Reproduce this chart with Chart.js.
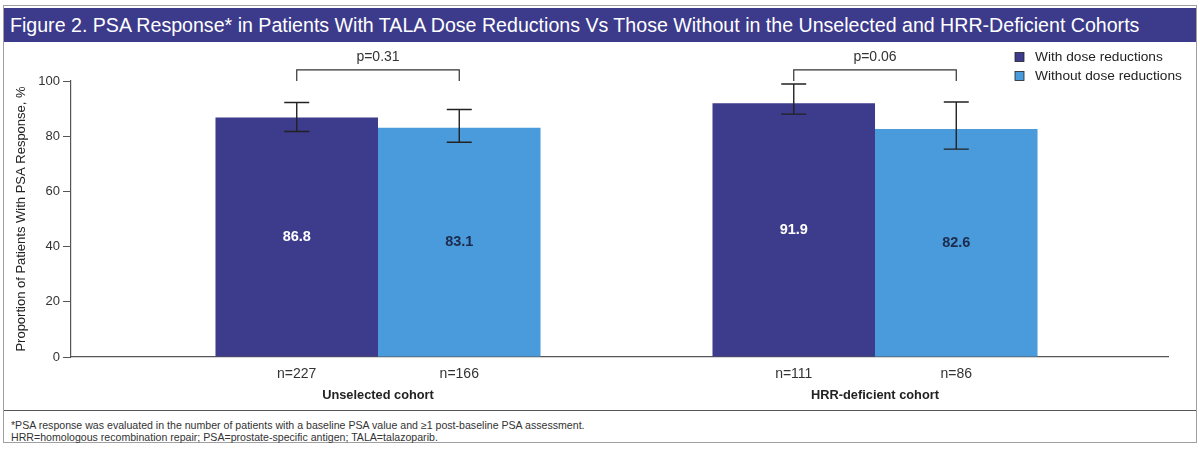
<!DOCTYPE html>
<html>
<head>
<meta charset="utf-8">
<script src="https://cdn.jsdelivr.net/npm/chart.js@4"></script>
<style>
  body { margin: 0; background: #fff; font-family: "Liberation Sans", Arial, sans-serif; }
  #frame { position: absolute; left: 3px; top: 5px; width: 1192px; height: 436px; border: 1px solid #a0a0a0; }
  #title { position: absolute; left: 0; top: 2px; width: 1192px; height: 34px; background: #3c3a8b;
           color: #fff; font-size: 19.6px; line-height: 34px; padding-left: 6px; box-sizing: border-box; white-space: nowrap; }
  #chartBox { position: absolute; left: 0; top: 37px; width: 1190px; height: 367px; }
  #foot { position: absolute; left: 0; top: 404px; width: 1192px; height: 32px; border-top: 1px solid #555;
          font-size: 10.6px; color: #333; padding: 8px 0 0 7px; box-sizing: border-box; line-height: 12px; }
</style>
</head>
<body>
<div id="frame">
  <div id="title">Figure 2. PSA Response* in Patients With TALA Dose Reductions Vs Those Without in the Unselected and HRR-Deficient Cohorts</div>
  <div id="chartBox"><canvas id="psaChart"></canvas></div>
  <div id="foot">*PSA response was evaluated in the number of patients with a baseline PSA value and ≥1 post-baseline PSA assessment.<br>HRR=homologous recombination repair; PSA=prostate-specific antigen; TALA=talazoparib.</div>
</div>
<script>
// chart data
const cohorts = ["Unselected cohort", "HRR-deficient cohort"];
const seriesNames = ["With dose reductions", "Without dose reductions"];
const withReductions = [86.8, 91.9];
const withoutReductions = [83.1, 82.6];
const withLow = [81.7, 88.0];
const withHigh = [92.2, 98.9];
const withoutLow = [77.8, 75.3];
const withoutHigh = [89.7, 92.4];
const withN = ["n=227", "n=111"];
const withoutN = ["n=166", "n=86"];
const pValues = ["p=0.31", "p=0.06"];
const yTicks = [0, 20, 40, 60, 80, 100];

const darkBlue = "#3d3b8c";
const lightBlue = "#4a9bdc";
const fontFam = "'Liberation Sans', Arial, sans-serif";

const errors = [[withLow, withHigh], [withoutLow, withoutHigh]];
const nLabels = [withN, withoutN];

// error bars, brackets, value labels, n labels, legend
const extrasPlugin = {
  id: "extras",
  afterDatasetsDraw(chart) {
    const ctx = chart.ctx;
    const y = chart.scales.y;
    const x = chart.scales.x;
    const area = chart.chartArea;
    ctx.save();
    ctx.textAlign = "center";
    ctx.textBaseline = "middle";

    // values inside bars
    chart.data.datasets.forEach((ds, d) => {
      const meta = chart.getDatasetMeta(d);
      meta.data.forEach((bar, i) => {
        ctx.font = "bold 14.5px " + fontFam;
        ctx.fillStyle = d === 0 ? "#ffffff" : "#1d2b4c";
        ctx.fillText(ds.data[i].y.toFixed(1), bar.x, y.getPixelForValue(ds.data[i].y / 2));
      });
    });

    // error bars
    ctx.strokeStyle = "#222";
    ctx.lineWidth = 1.4;
    chart.data.datasets.forEach((ds, d) => {
      const meta = chart.getDatasetMeta(d);
      meta.data.forEach((bar, i) => {
        const lo = y.getPixelForValue(errors[d][0][i]);
        const hi = y.getPixelForValue(errors[d][1][i]);
        ctx.beginPath();
        ctx.moveTo(bar.x, lo); ctx.lineTo(bar.x, hi);
        ctx.moveTo(bar.x - 12.5, lo); ctx.lineTo(bar.x + 12.5, lo);
        ctx.moveTo(bar.x - 12.5, hi); ctx.lineTo(bar.x + 12.5, hi);
        ctx.stroke();
      });
    });

    // significance brackets
    const m0 = chart.getDatasetMeta(0).data;
    const m1 = chart.getDatasetMeta(1).data;
    ctx.lineWidth = 1.2;
    ctx.strokeStyle = "#333";
    pValues.forEach((p, i) => {
      const top = y.getPixelForValue(104);
      const end = y.getPixelForValue(100);
      ctx.beginPath();
      ctx.moveTo(m0[i].x, end); ctx.lineTo(m0[i].x, top);
      ctx.lineTo(m1[i].x, top); ctx.lineTo(m1[i].x, end);
      ctx.stroke();
      ctx.font = "14px " + fontFam;
      ctx.fillStyle = "#333";
      ctx.fillText(p, (m0[i].x + m1[i].x) / 2, y.getPixelForValue(108.8));
    });

    // n labels and cohort names under the axis
    [m0, m1].forEach((bars, d) => {
      bars.forEach((bar, i) => {
        ctx.font = "14px " + fontFam;
        ctx.fillStyle = "#333";
        ctx.fillText(nLabels[d][i], bar.x, area.bottom + 17);
      });
    });
    cohorts.forEach((c, i) => {
      ctx.font = "bold 12.8px " + fontFam;
      ctx.fillStyle = "#222";
      ctx.fillText(c, x.getPixelForValue(i + 1), area.bottom + 38);
    });

    // legend
    chart.data.datasets.forEach((ds, d) => {
      const lx = chart.width - 179;
      const ly = 14 + d * 19;
      ctx.fillStyle = ds.backgroundColor;
      ctx.fillRect(lx, ly - 4.5, 9, 9);
      ctx.strokeStyle = "#222";
      ctx.lineWidth = 0.8;
      ctx.strokeRect(lx, ly - 4.5, 9, 9);
      ctx.font = "13.7px " + fontFam;
      ctx.fillStyle = "#222";
      ctx.textAlign = "left";
      ctx.fillText(ds.label, lx + 20, ly);
    });

    ctx.restore();
  }
};

new Chart(document.getElementById("psaChart"), {
  type: "bar",
  data: {
    datasets: [
      {
        label: seriesNames[0],
        data: withReductions.map((v, i) => ({ x: i + 1, y: v })),
        backgroundColor: darkBlue
      },
      {
        label: seriesNames[1],
        data: withoutReductions.map((v, i) => ({ x: i + 1, y: v })),
        backgroundColor: lightBlue
      }
    ]
  },
  options: {
    responsive: true,
    maintainAspectRatio: false,
    animation: false,
    categoryPercentage: 0.654,
    barPercentage: 1.0,
    layout: { padding: { top: 38, right: 26, left: 0, bottom: 0 } },
    plugins: {
      legend: { display: false },
      tooltip: { enabled: false }
    },
    scales: {
      x: {
        type: "linear",
        offset: false,
        min: 0.3823,
        max: 2.5895,
        afterBuildTicks(scale) {
          scale.ticks = cohorts.map((c, i) => ({ value: i + 1 }));
        },
        afterFit(scale) { scale.height = 53; },
        ticks: { display: false },
        grid: { offset: false, drawOnChartArea: false, drawTicks: false },
        border: { color: "#555", width: 1.2 }
      },
      y: {
        min: 0,
        max: 100,
        afterBuildTicks(scale) {
          scale.ticks = yTicks.map(v => ({ value: v }));
        },
        afterFit(scale) { scale.width = 67; },
        ticks: { color: "#333", font: { size: 13, family: fontFam }, padding: 3 },
        grid: { drawOnChartArea: false, tickLength: 8, color: "#555", tickColor: "#555" },
        border: { color: "#555", width: 1.2 },
        title: {
          display: true,
          text: "Proportion of Patients With PSA Response, %",
          color: "#222",
          font: { size: 13, family: fontFam },
          padding: { top: 10, bottom: 0 }
        }
      }
    }
  },
  plugins: [extrasPlugin]
});
</script>
</body>
</html>
